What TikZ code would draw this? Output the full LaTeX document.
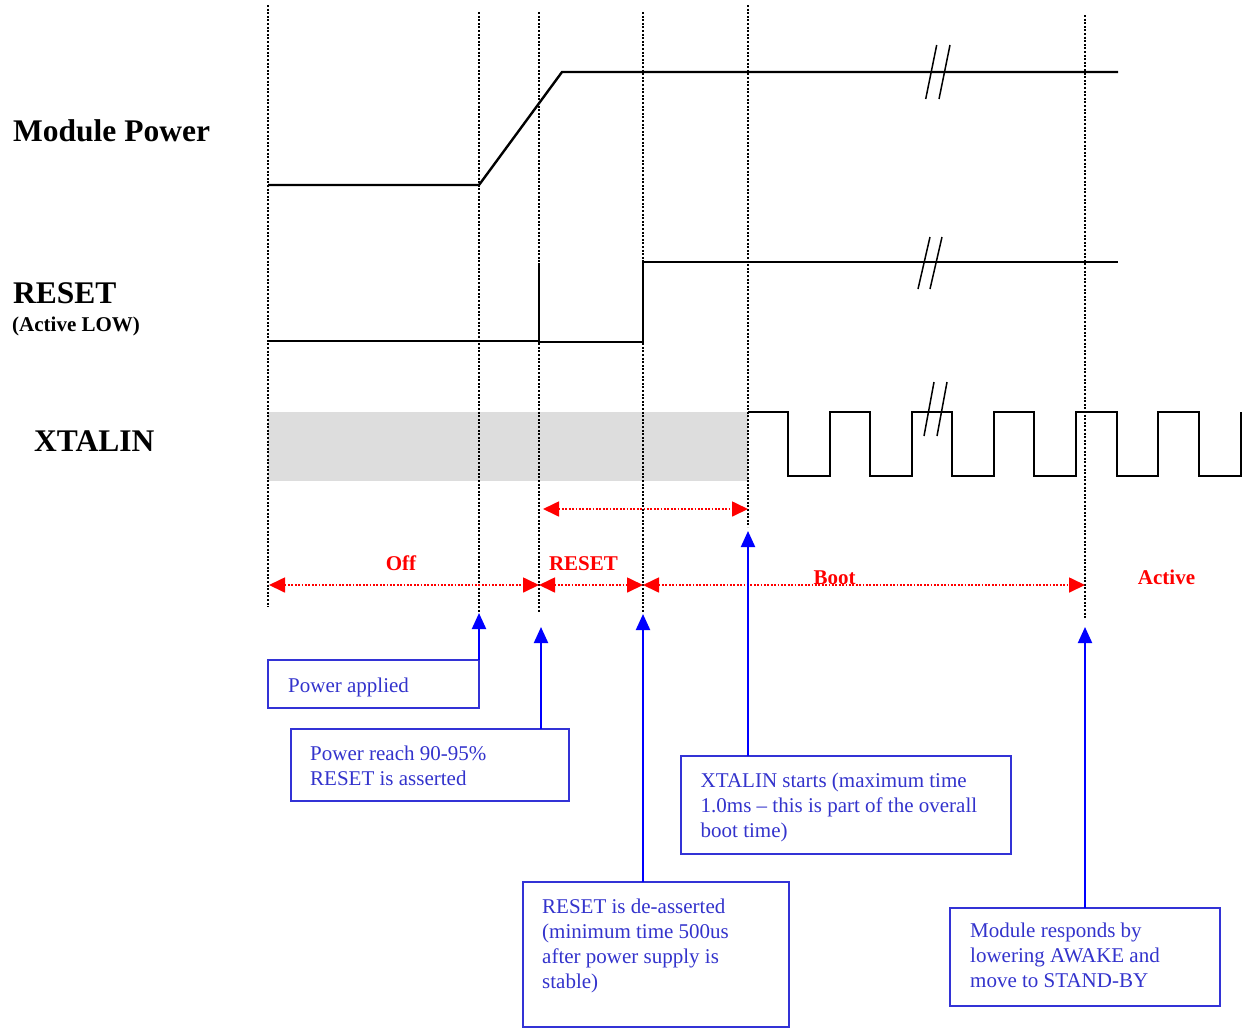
\documentclass[tikz,border=0pt]{standalone}
\usepackage{fontspec}
\setmainfont{Liberation Serif}
\usetikzlibrary{arrows.meta,calc}
\definecolor{boxblue}{RGB}{51,51,214}
\definecolor{txtblue}{RGB}{51,51,204}
\definecolor{greyfill}{RGB}{221,221,221}
\begin{document}
\begin{tikzpicture}[x=1pt,y=-1pt,
  guide/.style={line width=2.2pt, dash pattern=on 2pt off 1.6pt, black},
  sig/.style={line width=2.4pt, line join=miter, black},
  thicksig/.style={line width=2.9pt, line join=miter, black},
  brk/.style={line width=1.5pt, black},
  span/.style={red, line width=1.7pt, dash pattern=on 1.8pt off 1.6pt,
    {Triangle[length=16pt,width=15pt]}-{Triangle[length=16pt,width=15pt]}},
  pointer/.style={blue, line width=2pt, -{Triangle[length=16pt,width=14pt]}},
  box/.style={draw=boxblue, line width=2pt, rectangle, inner sep=0pt, outer sep=0pt, anchor=north west},
  btext/.style={txtblue, font=\fontsize{21}{25}\selectfont, align=left, inner sep=0pt, anchor=north west},
  signame/.style={font=\bfseries\fontsize{31.5}{36}\selectfont, inner sep=0pt, anchor=base west},
  phase/.style={red, font=\bfseries\fontsize{21}{25}\selectfont, inner sep=0pt, anchor=base}
]
\useasboundingbox (0,0) rectangle (1244,1028);

% undefined XTALIN region
\fill[greyfill] (268,412) rectangle (748,481);

% guide coordinates
\coordinate (g1t) at (268,5);   \coordinate (g1b) at (268,607);
\coordinate (g2t) at (479,12);  \coordinate (g2b) at (479,612);
\coordinate (g3t) at (539,12);  \coordinate (g3b) at (539,613);
\coordinate (g4t) at (643,12);  \coordinate (g4b) at (643,612);
\coordinate (g5t) at (748,5);   \coordinate (g5b) at (748,527);
\coordinate (g6t) at (1085,15); \coordinate (g6b) at (1085,618);
\foreach \i in {1,...,6} {\draw[guide] (g\i t) -- (g\i b);}

% signal names
\node[signame] (nmp) at (13,141.7) {Module Power};
\node[signame] (nrs) at (13,303.3) {RESET};
\node[inner sep=0pt, anchor=base west, font=\bfseries\fontsize{21}{25}\selectfont] (nal) at (12,331.7) {(Active LOW)};
\node[signame] (nxt) at (34,451.7) {XTALIN};

% Module Power
\draw[sig] (268,185) -- (479,185) -- (562,72) -- (1118,72);
\draw[brk] (925.7,99) -- (936.7,45);
\draw[brk] (939,99) -- (950,45);

% RESET
\draw[line width=1.9pt] (267,341) -- (539,341);
\draw[thicksig] (539,263) -- (539,342) -- (643,342) -- (643,262) -- (1118,262);
\draw[brk] (918,289) -- (930,237);
\draw[brk] (930,289) -- (942,237);

% XTALIN clock
\draw[sig] (748,412) -- (788,412) -- (788,476) -- (830,476) -- (830,412)
  -- (870,412) -- (870,476) -- (912,476) -- (912,412)
  -- (952,412) -- (952,476) -- (994,476) -- (994,412)
  -- (1034,412) -- (1034,476) -- (1076,476) -- (1076,412)
  -- (1117,412) -- (1117,476) -- (1158,476) -- (1158,412)
  -- (1199,412) -- (1199,476) -- (1241,476) -- (1241,412);
\draw[brk] (924,436) -- (934,382);
\draw[brk] (937,436) -- (947,382);

% phase spans
\coordinate (s0a) at (543,509); \coordinate (s0b) at (748,509);
\coordinate (s1a) at (269,585); \coordinate (s1b) at (539,585);
\coordinate (s2b) at (643,585);
\coordinate (s3b) at (1085,585);
\draw[span] (s0a) -- (s0b);
\draw[span] (s1a) -- (s1b);
\draw[span] (s1b) -- (s2b);
\draw[span] (s2b) -- (s3b);
\node[phase] (poff) at (401,570) {Off};
\node[phase] (prs) at (583.5,570) {RESET};
\node[phase] (pbt) at (834.5,584) {Boot};
\node[phase] (pac) at (1166.5,584) {Active};

% annotation boxes
\node[box, minimum width=211pt, minimum height=48pt] (bpa) at (268,660) {};
\node[btext] (tpa) at (288,675) {\strut Power applied};

\node[box, minimum width=278pt, minimum height=72pt] (bpr) at (291,729) {};
\node[btext] (tpr) at (310,742.5) {\strut Power reach 90-95\%\\RESET is asserted};

\node[box, minimum width=330pt, minimum height=98pt] (bxs) at (681,756) {};
\node[btext] (txs) at (700.5,769.5) {\strut XTALIN starts (maximum time\\1.0ms – this is part of the overall\\boot time)};

\node[box, minimum width=266pt, minimum height=145pt] (brd) at (523,882) {};
\node[btext] (trd) at (542,895.5) {\strut RESET is de-asserted\\(minimum time 500us\\after power supply is\\stable)};

\node[box, minimum width=270pt, minimum height=98pt] (bmr) at (950,908) {};
\node[btext] (tmr) at (970,919.5) {\strut Module responds by\\lowering AWAKE and\\move to STAND-BY};

% pointers
\coordinate (ppa) at (479,613);
\coordinate (ppr) at (541,627);
\coordinate (prd) at (643,614);
\coordinate (pxs) at (748,531);
\coordinate (pmr) at (1085,627);
\draw[pointer] (ppa |- bpa.north) -- (ppa);
\draw[pointer] (ppr |- bpr.north) -- (ppr);
\draw[pointer] (prd |- brd.north) -- (prd);
\draw[pointer] (pxs |- bxs.north) -- (pxs);
\draw[pointer] (pmr |- bmr.north) -- (pmr);
\end{tikzpicture}
\end{document}
